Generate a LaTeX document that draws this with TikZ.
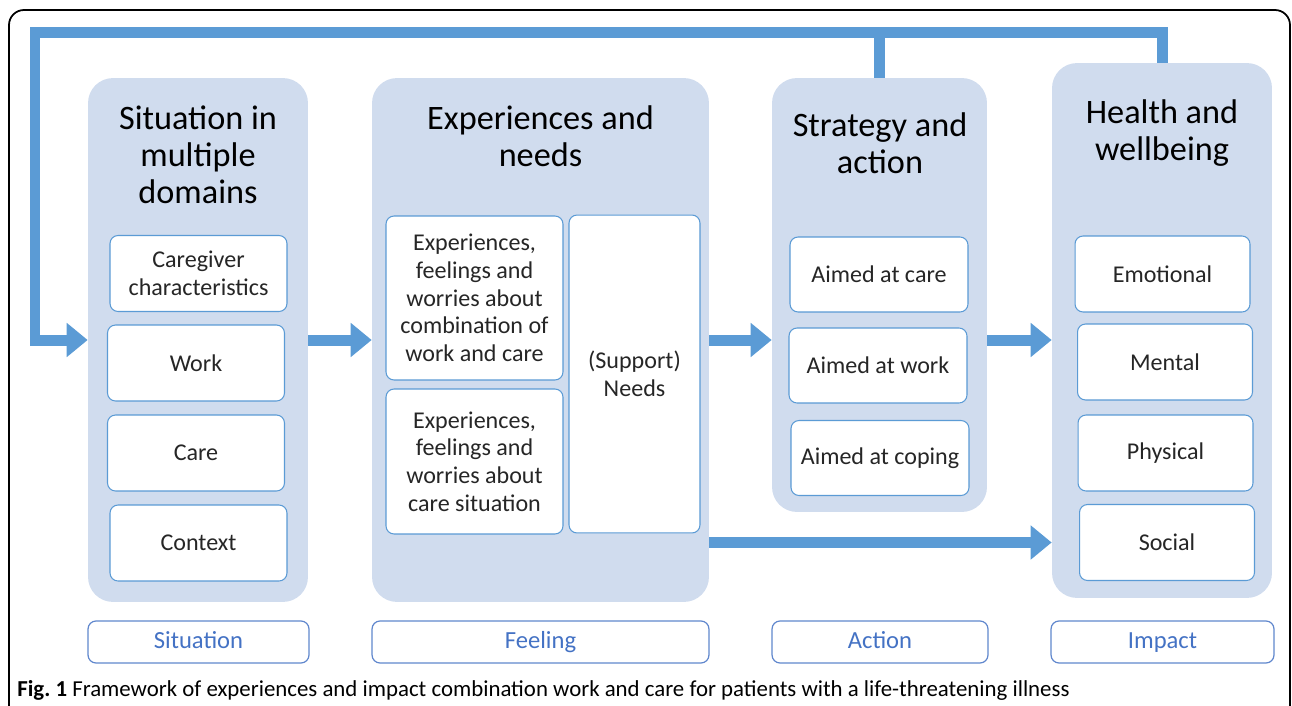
\documentclass[tikz,border=0pt]{standalone}
\usepackage{fontspec}
\setmainfont{Carlito}
\usetikzlibrary{arrows.meta}
\definecolor{panelfill}{HTML}{D0DCEE}
\definecolor{flowblue}{HTML}{5B9BD5}
\definecolor{tagblue}{HTML}{4472C4}
\tikzset{
  column/.style={fill=panelfill, rounded corners=0.5cm, inner sep=0pt},
  heading/.style={font=\fontsize{19.5}{21}\selectfont, align=center},
  item/.style={draw=flowblue, fill=white, line width=0.6pt, rounded corners=0.16cm,
    align=center, inner sep=0pt, minimum width=3.54cm, minimum height=1.52cm,
    font=\fontsize{13.7}{15.8}\selectfont, text=black!85},
  tag/.style={draw=tagblue!85, line width=0.7pt, rounded corners=0.16cm, inner sep=0pt,
    minimum height=0.84cm, text height=0.9em, text depth=0.2em,
    text=tagblue, font=\fontsize{14}{16}\selectfont},
  flow/.style={draw=flowblue, line width=0.22cm, line join=miter,
    -{Triangle[length=0.42cm,width=0.66cm]}},
  flowline/.style={draw=flowblue, line width=0.22cm}
}
\begin{document}
\begin{tikzpicture}[x=0.02cm,y=-0.02cm]
  \useasboundingbox (0,0) rectangle (1292,706);
  \draw[line width=1pt, rounded corners=0.3cm] (9,760) -- (9,10) -- (1290,10) -- (1290,760);
  % Columns
  \node[column, minimum width=4.4cm,  minimum height=10.48cm] (sit)   at (198,340) {};
  \node[column, minimum width=6.74cm, minimum height=10.48cm] (exp)   at (540.5,340) {};
  \node[column, minimum width=4.3cm,  minimum height=8.68cm]  (strat) at (879.5,295) {};
  \node[column, minimum width=4.4cm,  minimum height=10.7cm]  (hlth)  at (1162,330.5) {};
  \node[heading] (sitT)   at (198,155)   {Situation in\\multiple\\domains};
  \node[heading] (expT)   at (540.5,136) {Experiences and\\needs};
  \node[heading] (stratT) at (880,143)   {Strategy and\\action};
  \node[heading] (hlthT)  at (1162,133)  {Health and\\wellbeing};
  % Situation
  \node[item] (chars)   at (198.5,273.5) {Caregiver\\characteristics};
  \node[item] (work)    at (196,363)     {Work};
  \node[item] (care)    at (196,453)     {Care};
  \node[item] (context) at (198.5,543)   {Context};
  % Experiences and needs
  \node[item, minimum height=3.28cm] (expA) at (474.5,298)
        {Experiences,\\feelings and\\worries about\\combination of\\work and care};
  \node[item, minimum height=2.9cm] (expB) at (474.5,461.5)
        {Experiences,\\feelings and\\worries about\\care situation};
  \node[item, minimum width=2.62cm, minimum height=6.36cm] (needs) at (634.5,374)
        {(Support)\\Needs};
  % Strategy and action
  \node[item, minimum width=3.56cm, minimum height=1.5cm] (aimcare) at (879,274.5)  {Aimed at care};
  \node[item, minimum width=3.56cm, minimum height=1.5cm] (aimwork) at (878,365.5)  {Aimed at work};
  \node[item, minimum width=3.56cm, minimum height=1.5cm] (aimcope) at (880,458)    {Aimed at coping};
  % Health and wellbeing
  \node[item, minimum width=3.5cm] (emo)  at (1162.5,274) {Emotional};
  \node[item, minimum width=3.5cm] (ment) at (1165,362)   {Mental};
  \node[item, minimum width=3.5cm] (phys) at (1165.5,453) {Physical};
  \node[item, minimum width=3.5cm] (soc)  at (1167,542.5) {Social};
  % Tags
  \node[tag, minimum width=4.42cm] (tagS) at (198.5,642) {Situation};
  \node[tag, minimum width=6.74cm] (tagF) at (540.5,642) {Feeling};
  \node[tag, minimum width=4.32cm] (tagA) at (880,642)   {Action};
  \node[tag, minimum width=4.46cm] (tagI) at (1162.5,642) {Impact};
  % Flows
  \coordinate (loop) at (35,33);
  \draw[flow] (sit.east) -- (exp.west);
  \draw[flow] (exp.east) -- (strat.west |- exp.east);
  \draw[flow] (strat.east |- exp.east) -- (hlth.west |- exp.east);
  \draw[flow] (exp.east |- soc.west) -- (hlth.west |- soc.west);
  \draw[flow] (hlth.north) |- (loop) |- (sit.west);
  \draw[flowline] (strat.north) -- (strat.north |- loop);
  % Caption
  \node[anchor=west, inner sep=0pt, font=\fontsize{13}{15}\selectfont] (cap) at (17,690)
        {\textbf{Fig.\ 1} Framework of experiences and impact combination work and care for patients with a life-threatening illness};
\end{tikzpicture}
\end{document}
